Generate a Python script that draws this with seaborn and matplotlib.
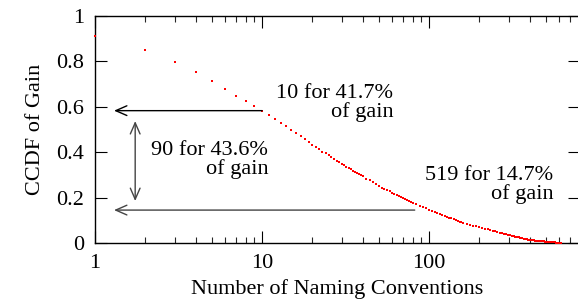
import matplotlib
matplotlib.use("Agg")
import matplotlib.pyplot as plt
import seaborn as sns
import pandas as pd

# Ranks of naming conventions and the CCDF of gain
ranks = list(range(1, 41)) + list(range(42, 81, 2)) + list(range(84, 161, 4)) \
    + list(range(168, 617, 8)) + [619]
ccdf = [
    # 1..40
    0.912, 0.850, 0.799, 0.752, 0.714, 0.677, 0.649, 0.625, 0.605, 0.583,
    0.565, 0.547, 0.530, 0.514, 0.499, 0.484, 0.470, 0.457, 0.444, 0.432,
    0.422, 0.413, 0.403, 0.395, 0.386, 0.378, 0.371, 0.363, 0.356, 0.349,
    0.343, 0.336, 0.330, 0.324, 0.318, 0.312, 0.308, 0.303, 0.298, 0.293,
    # 42..80
    0.284, 0.276, 0.267, 0.259, 0.252, 0.244, 0.237, 0.232, 0.227, 0.222,
    0.216, 0.212, 0.207, 0.202, 0.198, 0.193, 0.189, 0.185, 0.181, 0.177,
    # 84..160
    0.170, 0.164, 0.158, 0.152, 0.147, 0.142, 0.137, 0.133, 0.128, 0.124,
    0.120, 0.116, 0.112, 0.108, 0.105, 0.101, 0.098, 0.094, 0.091, 0.088,
    # 168..256
    0.084, 0.080, 0.076, 0.073, 0.069, 0.066, 0.063, 0.0595, 0.0565, 0.054,
    0.051, 0.048,
    # 264..392
    0.0455, 0.0432, 0.0408, 0.0386, 0.0364, 0.0343, 0.0322, 0.0302, 0.0282,
    0.0263, 0.0244, 0.0226, 0.0208, 0.0190, 0.0173, 0.0156, 0.0139,
    # 400..616, 619
    0.0133, 0.0126, 0.0119, 0.0112, 0.0106, 0.0100, 0.0094, 0.0089, 0.0083,
    0.0078, 0.0073, 0.0068, 0.0063, 0.0058, 0.0053, 0.0049, 0.0044, 0.0040,
    0.0036, 0.0032, 0.0028, 0.0024, 0.0020, 0.0016, 0.0012, 0.0009, 0.0005,
    0.0002, 0.0,
]

x_ticks = [1, 10, 100]
x_tick_labels = ["1", "10", "100"]
y_ticks = [0, 0.2, 0.4, 0.6, 0.8, 1]
y_tick_labels = ["0", "0.2", "0.4", "0.6", "0.8", "1"]

# annotation texts
notes = ["10 for 41.7%\nof gain", "90 for 43.6%\nof gain", "519 for 14.7%\nof gain"]

sns.set_theme(style="ticks")
plt.rcParams['font.family'] = ['Liberation Serif', 'DejaVu Serif']
plt.rcParams['text.color'] = 'black'
plt.rcParams['axes.labelcolor'] = 'black'

df = pd.DataFrame({'rank': ranks, 'ccdf': ccdf})

fig = plt.figure(figsize=(5.78, 3.01), dpi=100)
ax = fig.add_axes([95 / 578, 58 / 301, 485 / 578, 227 / 301])

sns.scatterplot(data=df, x='rank', y='ccdf', ax=ax, color='red', marker='s',
                s=4.5, linewidth=0, legend=False, clip_on=False, zorder=3)

ax.set_xscale('log')
ax.set_xlim(1, 800)
ax.set_ylim(0, 1)
ax.set_xticks(x_ticks)
ax.set_xticklabels(x_tick_labels)
ax.set_yticks(y_ticks)
ax.set_yticklabels(y_tick_labels)

fs = 16
ax.tick_params(which='major', direction='in', length=8.5, width=0.8,
               top=True, right=True, labelsize=fs, colors='black', pad=8)
ax.tick_params(which='minor', direction='in', length=4.5, width=0.8,
               top=True, right=True)
for sp in ax.spines.values():
    sp.set_linewidth(1.0)
    sp.set_color('black')

ax.set_xlabel('Number of Naming Conventions', fontsize=fs, labelpad=4)
ax.set_ylabel('CCDF of Gain', fontsize=fs, labelpad=8)

arrow_kw = dict(arrowstyle='->,head_length=0.8,head_width=0.35',
                mutation_scale=10, lw=1.0, shrinkA=0, shrinkB=0)

# 10 conventions cover 41.7% of gain
ax.annotate('', xy=(1.30, 0.583), xytext=(10, 0.583),
            arrowprops=dict(color='black', **arrow_kw))
# 90 more conventions cover 43.6%
ax.annotate('', xy=(1.30, 0.145), xytext=(82, 0.145),
            arrowprops=dict(color='#444444', **arrow_kw))
ax.annotate('', xy=(1.74, 0.185), xytext=(1.74, 0.537),
            arrowprops=dict(color='#444444',
                            arrowstyle='<->,head_length=0.8,head_width=0.35',
                            mutation_scale=10, lw=1.0, shrinkA=0, shrinkB=0))

ax.text(61, 0.618, notes[0], ha='right', va='center', fontsize=fs,
        multialignment='right', linespacing=0.92)
ax.text(10.9, 0.367, notes[1], ha='right', va='center', fontsize=fs,
        multialignment='right', linespacing=0.92)
ax.text(553, 0.257, notes[2], ha='right', va='center', fontsize=fs,
        multialignment='right', linespacing=0.92)

fig.savefig('out.png', dpi=100)
